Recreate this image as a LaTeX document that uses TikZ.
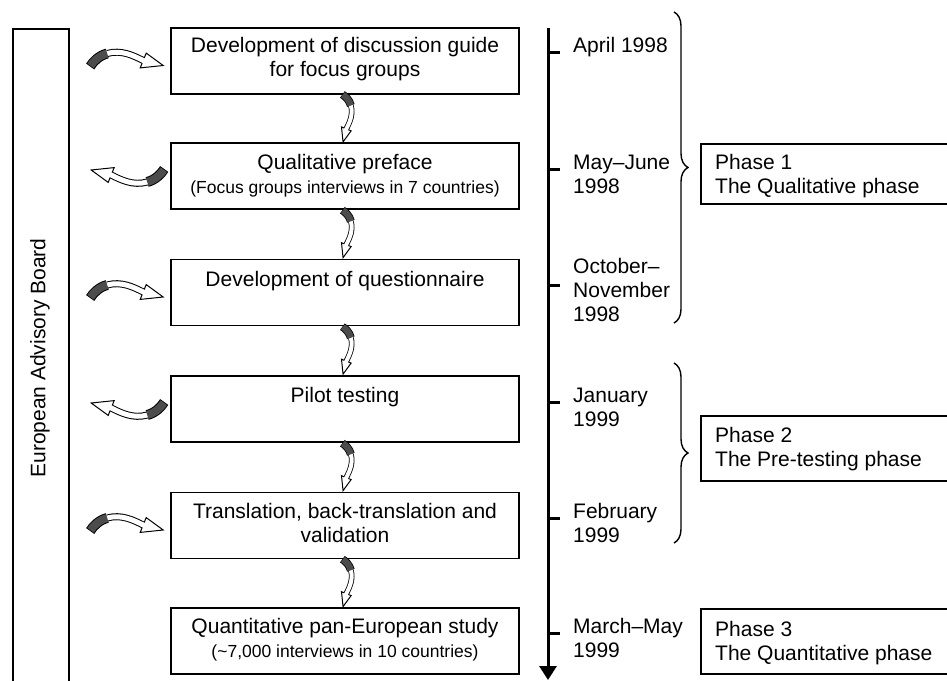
\documentclass[tikz,border=0pt]{standalone}
\usepackage{fontspec}
\setmainfont{Liberation Sans}
\usetikzlibrary{arrows.meta,decorations.pathreplacing,calc}
\tikzset{
  mainbox/.style={draw, line width=1.6pt, minimum width=348pt, minimum height=66pt, inner sep=0pt},
  phasebox/.style={draw, line width=1.6pt, minimum width=260pt, minimum height=60pt, anchor=north west, inner sep=0pt},
  big/.style={font=\fontsize{21}{24}\selectfont, inner sep=0pt},
  tickline/.style={line width=3pt},
  brc/.style={decorate, decoration={brace, amplitude=14pt}, line width=1.4pt},
  ribbon/.pic={
    \draw[line width={10*#1}] (-37,4) .. controls (-34,-1) and (-28,-7) .. (-20,-9);
    \draw[line width={7*#1}] (-20,-9) .. controls (-6,-13) and (6,-7) .. (16,-2);
    \filldraw[fill=white, line width=1pt, line join=miter] (13,5.4) -- (36,3) -- (19,-9.4) -- cycle;
    \draw[line width={5*#1}, white] (-20.5,-8.9) .. controls (-6,-13) and (6,-7) .. (16,-2) -- (19,-0.8);
    \draw[line width={8*#1}, black!70] (-36.6,3.3) .. controls (-34,-1) and (-28,-7) .. (-20,-9);
  }
}
\begin{document}
\begin{tikzpicture}[x=1pt, y=-1pt]
\clip (0,0) rectangle (947,680);
% advisory board
\node[draw, line width=1.6pt, minimum width=56pt, minimum height=700pt, anchor=north west, inner sep=0pt] (adv) at (12,28) {};
\node[big, rotate=90] (advtxt) at (40,358) {European Advisory Board};
% main boxes
\node[mainbox] (b1) at (345,61) {};
\node[mainbox] (b2) at (345,176) {};
\node[mainbox] (b3) at (345,292.5) {};
\node[mainbox] (b4) at (345,409) {};
\node[mainbox] (b5) at (345,525.5) {};
\node[mainbox] (b6) at (345,641) {};
\node[big, align=center, anchor=base] (t1) at (345,76) {Development of discussion guide\\for focus groups};
\node[big, align=center, anchor=base] (t2) at (345,193) {Qualitative preface\\{\fontsize{17.5}{20}\selectfont (Focus groups interviews in 7 countries)}};
\node[big, align=center, anchor=base] (t3) at (345,286) {Development of questionnaire};
\node[big, align=center, anchor=base] (t4) at (345,402) {Pilot testing};
\node[big, align=center, anchor=base] (t5) at (345,542) {Translation, back-translation and\\validation};
\node[big, align=center, anchor=base] (t6) at (345,657) {Quantitative pan-European study\\{\fontsize{17.5}{20}\selectfont (\textasciitilde 7,000 interviews in 10 countries)}};
% arrows from board
\pic at ($(b1.west)+(-43,1.5)$) {ribbon=1};
\pic[rotate=180] at ($(b2.west)+(-43,-3)$) {ribbon=1};
\pic at ($(b3.west)+(-43,1.5)$) {ribbon=1};
\pic[rotate=180] at ($(b4.west)+(-43,-3)$) {ribbon=1};
\pic at ($(b5.west)+(-43,1.5)$) {ribbon=1};
% arrows between boxes
\pic[rotate=-90, scale=0.65] at ($(b1.south)!0.5!(b2.north)$) {ribbon=0.8};
\pic[rotate=-90, scale=0.65] at ($(b2.south)!0.5!(b3.north)$) {ribbon=0.8};
\pic[rotate=-90, scale=0.65] at ($(b3.south)!0.5!(b4.north)$) {ribbon=0.8};
\pic[rotate=-90, scale=0.65] at ($(b4.south)!0.5!(b5.north)$) {ribbon=0.8};
\pic[rotate=-90, scale=0.65] at ($(b5.south)!0.5!(b6.north)$) {ribbon=0.8};
% timeline
\coordinate (tltop) at (548,28);
\coordinate (tlbot) at (548,680);
\draw[line width=3pt, -{Triangle[width=17pt,length=14pt]}] (tltop) -- (tlbot);
\foreach \y [count=\i] in {52,169,285,402,518,633} {
  \coordinate (ta\i) at (548,\y);
  \coordinate (tb\i) at (560,\y);
  \draw[tickline] (ta\i) -- (tb\i);
}
\node[big, align=left, anchor=base west] (d1) at (573,52) {April 1998};
\node[big, align=left, anchor=base west] (d2) at (573,193) {May--June\\1998};
\node[big, align=left, anchor=base west] (d3) at (573,321) {October--\\November\\1998};
\node[big, align=left, anchor=base west] (d4) at (573,426) {January\\1999};
\node[big, align=left, anchor=base west] (d5) at (573,542) {February\\1999};
\node[big, align=left, anchor=base west] (d6) at (573,657) {March--May\\1999};
% braces
\coordinate (br1a) at (674,12);
\coordinate (br1b) at (674,323);
\coordinate (br2a) at (674,363);
\coordinate (br2b) at (674,543);
\draw[brc] (br1a) -- (br1b);
\draw[brc] (br2a) -- (br2b);
% phases
\node[phasebox] (p1) at (700,143) {};
\node[phasebox, minimum height=65pt] (p2) at (700,415) {};
\node[phasebox, minimum height=65pt] (p3) at (700,608) {};
\node[big, align=left, anchor=base west] (p1t) at (715,193) {Phase 1\\The Qualitative phase};
\node[big, align=left, anchor=base west] (p2t) at (715,466) {Phase 2\\The Pre-testing phase};
\node[big, align=left, anchor=base west] (p3t) at (715,660) {Phase 3\\The Quantitative phase};
\end{tikzpicture}
\end{document}
